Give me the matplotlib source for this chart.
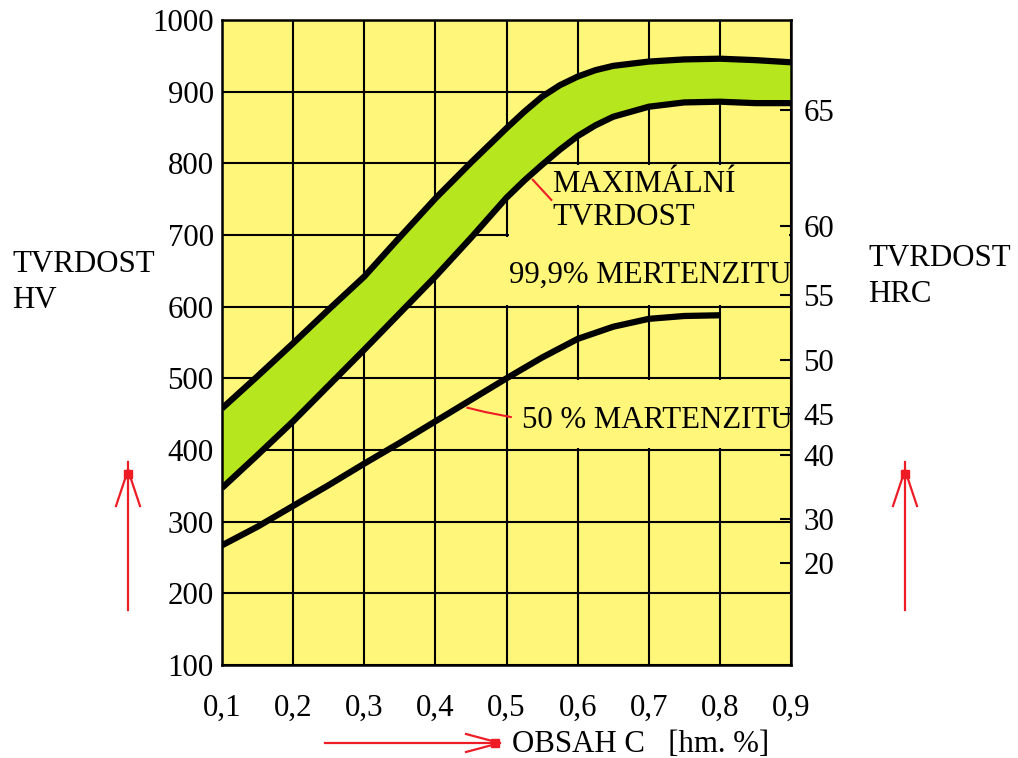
import matplotlib
matplotlib.use("Agg")
import matplotlib.pyplot as plt
from matplotlib.patches import Rectangle
from matplotlib.lines import Line2D

# ---- data ----
carbon = [0.10, 0.15, 0.20, 0.25, 0.30, 0.35, 0.40, 0.45, 0.50, 0.525, 0.55, 0.575, 0.60, 0.625,
          0.65, 0.70, 0.75, 0.80, 0.85, 0.90]
max_upper = [458, 503, 549, 596, 642, 697, 751, 801, 849, 872, 893, 909, 921, 930,
             936, 942, 945, 946, 944, 941]
max_lower = [347, 393, 440, 490, 540, 591, 642, 696, 752, 776, 798, 819, 838, 853,
             865, 879, 885, 886, 884, 884]
carbon50 = [0.10, 0.15, 0.20, 0.25, 0.30, 0.35, 0.40, 0.45, 0.50, 0.55, 0.60, 0.65, 0.70, 0.75, 0.80]
mart50 = [267, 293, 322, 351, 381, 410, 440, 470, 500, 529, 555, 572, 583, 587, 588]

x_ticks = [0.1, 0.2, 0.3, 0.4, 0.5, 0.6, 0.7, 0.8, 0.9]
x_labels = ["0,1", "0,2", "0,3", "0,4", "0,5", "0,6", "0,7", "0,8", "0,9"]
hv_ticks = [100, 200, 300, 400, 500, 600, 700, 800, 900, 1000]
hrc_labels = ["20", "30", "40", "45", "50", "55", "60", "65"]
hrc_pos_hv = [242, 304, 393, 450, 526, 616, 713, 874]

YELLOW = "#FFF67A"
GREEN = "#B5E61E"
RED = "#EE1C25"
FONT = "Liberation Serif"
FS = 22.2

plt.rcParams["font.family"] = FONT

fig = plt.figure(figsize=(10.18, 7.58), dpi=100)
W, H = 1018, 758
ax = fig.add_axes([222 / W, 1 - 665 / H, 569 / W, 645 / H])
ax.set_facecolor(YELLOW)
ax.set_xlim(0.1, 0.9)
ax.set_ylim(100, 1000)

# grid
for xv in x_ticks:
    ax.axvline(xv, color="black", lw=1.5, zorder=1)
for yv in hv_ticks:
    ax.axhline(yv, color="black", lw=1.5, zorder=1)

# text boxes (cover grid)
ax.add_patch(Rectangle((0.503, 603), 0.394, 194, facecolor=YELLOW, edgecolor="none", zorder=2))
ax.add_patch(Rectangle((0.496, 603), 0.01, 94, facecolor=YELLOW, edgecolor="none", zorder=2))
ax.add_patch(Rectangle((0.503, 403), 0.394, 94, facecolor=YELLOW, edgecolor="none", zorder=2))

# band & curves
ax.fill_between(carbon, max_lower, max_upper, color=GREEN, zorder=3, lw=0)
for xs, ys in ((carbon, max_upper), (carbon, max_lower), (carbon50, mart50)):
    ax.plot(xs, ys, color="black", lw=4.5, zorder=4, solid_capstyle="butt", solid_joinstyle="round")

# leaders
ax.plot([0.537, 0.563], [777, 749], color=RED, lw=1.5, zorder=5)
ax.plot([0.445, 0.47, 0.506], [459, 453, 446], color=RED, lw=1.5, zorder=5)

# labels inside
ax.text(0.5645, 770, "MAXIMÁLNÍ", fontsize=FS, va="center", ha="left", zorder=6)
ax.text(0.5645, 724, "TVRDOST", fontsize=FS, va="center", ha="left", zorder=6)
ax.text(0.5035, 644, "99,9% MERTENZITU", fontsize=FS, va="center", ha="left", zorder=6)
ax.text(0.5215, 441, "50 % MARTENZITU", fontsize=FS, va="center", ha="left", zorder=6)

ax.set_xticks(x_ticks)
ax.set_xticklabels(x_labels)
ax.set_yticks(hv_ticks)
ax.tick_params(axis="both", length=0, labelsize=FS)
ax.tick_params(axis="x", pad=21)
ax.tick_params(axis="y", pad=6)
for s in ax.spines.values():
    s.set_linewidth(1.8)
    s.set_zorder(7)

# right HRC axis
ax2 = ax.twinx()
ax2.set_ylim(100, 1000)
ax2.set_yticks(hrc_pos_hv)
ax2.set_yticklabels(hrc_labels)
ax2.tick_params(axis="y", direction="in", length=8, width=1.5, labelsize=FS, pad=9)
for s in ax2.spines.values():
    s.set_visible(False)

# outside labels
fig.text(12 / W, 1 - 265 / H, "TVRDOST", fontsize=FS, va="center", ha="left")
fig.text(12 / W, 1 - 301 / H, "HV", fontsize=FS, va="center", ha="left")
fig.text(868 / W, 1 - 258 / H, "TVRDOST", fontsize=FS, va="center", ha="left")
fig.text(868 / W, 1 - 295 / H, "HRC", fontsize=FS, va="center", ha="left")
fig.text(512 / W, 1 - 744 / H, "OBSAH C   [hm. %]", fontsize=FS, va="center", ha="left")

def fline(xs, ys, lw=1.6):
    fig.add_artist(Line2D([x / W for x in xs], [1 - y / H for y in ys], color=RED, lw=lw,
                          transform=fig.transFigure))

# vertical arrows
for xc in (128, 905):
    fline([xc, xc], [610, 462])
    fline([xc, xc - 12], [470, 506])
    fline([xc, xc + 12], [470, 506])
    fig.add_artist(Line2D([xc / W], [1 - 474 / H], marker="s", markersize=6, color=RED,
                          transform=fig.transFigure))
# horizontal arrow
fline([325, 500], [743, 743])
fline([466, 496], [734, 742])
fline([466, 496], [752, 744])
fig.add_artist(Line2D([495 / W], [1 - 743 / H], marker="s", markersize=6, color=RED,
                      transform=fig.transFigure))

fig.savefig("out.png", dpi=100, facecolor="white")
